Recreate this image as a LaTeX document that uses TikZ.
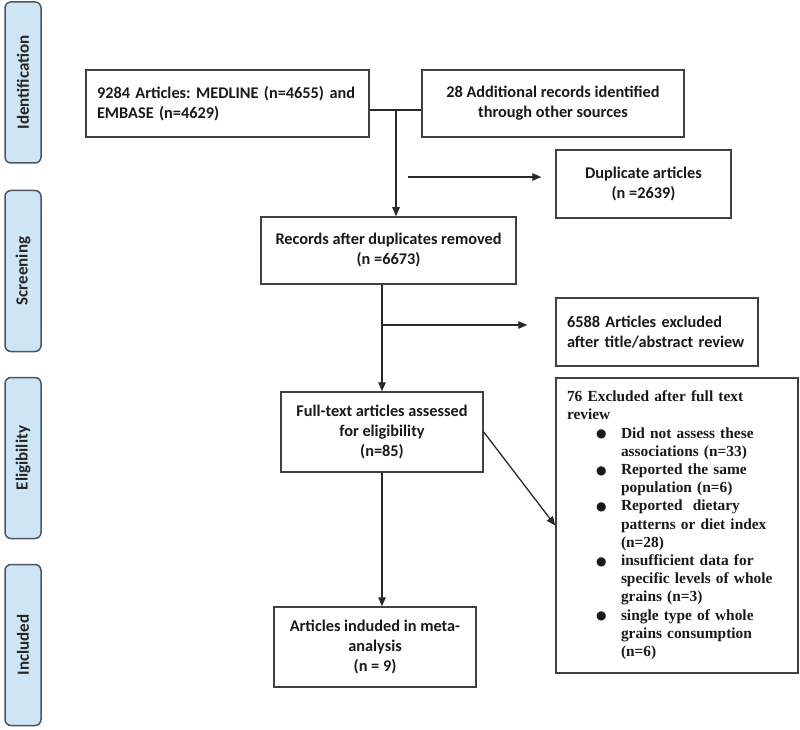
\documentclass[tikz,border=0pt]{standalone}
\usepackage{fontspec}
\setmainfont{Carlito}
\newfontfamily\tnr{Liberation Serif}
\newfontfamily\dejavu{DejaVu Sans}
\usetikzlibrary{arrows.meta}
\frenchspacing
\definecolor{sideblue}{RGB}{206,229,246}
\definecolor{sidegray}{RGB}{75,85,95}
\definecolor{boxgray}{RGB}{65,65,65}
\definecolor{linegray}{RGB}{40,40,40}
\newcommand{\bul}{\makebox[54pt][l]{\hspace{29pt}\raisebox{0.5pt}{\dejavu\fontsize{12}{12}\selectfont ●}}}
\tikzset{
  box/.style={draw=boxgray, line width=1.5pt, align=center, inner sep=0pt,
    font=\fontsize{16.3}{20}\selectfont\bfseries, text=black!90},
  side/.style={draw=sidegray, fill=sideblue, rounded corners=6pt, line width=1.5pt,
    rotate=90, minimum width=161pt, minimum height=36pt, inner sep=0pt,
    font=\fontsize{17}{19}\selectfont\bfseries, text=black!85},
  conn/.style={draw=linegray, line width=1.3pt},
  arr/.style={conn, -{Triangle[length=9pt,width=7.5pt]}}
}
\begin{document}
\begin{tikzpicture}[x=1pt,y=-1pt]
\useasboundingbox (0,0) rectangle (800,730);
% side labels
\node[side] (sid) at (23,82.5) {Identification};
\node[side] (ssc) at (23,271) {Screening};
\node[side] (sel) at (23,458) {Eligibility};
\node[side] (sin) at (23,645) {Included};
% boxes
\node[box, minimum width=283pt, minimum height=67pt, text width=261pt, align=left] (A) at (227.5,103.5)
  {9284 Articles: MEDLINE (n=4655) and\\EMBASE (n=4629)};
\node[box, minimum width=262pt, minimum height=67pt] (B) at (553,103.5)
  {28 Additional records identified\\through other sources};
\node[box, minimum width=175pt, minimum height=68pt] (Dup) at (643.5,184)
  {Duplicate articles\\(n =2639)};
\node[box, minimum width=255pt, minimum height=67pt] (Rec) at (388.5,250.5)
  {Records after duplicates removed\\(n =6673)};
\node[box, minimum width=202pt, minimum height=68pt, text width=180pt, align=left] (Ex1) at (657,332)
  {6588 Articles excluded\\after title/abstract review};
\node[box, minimum width=202pt, minimum height=80pt] (Full) at (382,432)
  {Full-text articles assessed\\for eligibility\\(n=85)};
\node[box, minimum width=202pt, minimum height=80pt] (Inc) at (375,647)
  {Articles induded in meta-\\analysis\\(n = 9)};
\node[box, minimum width=242pt, minimum height=295pt, text width=220pt, align=left,
  font=\tnr\bfseries\fontsize{15.4}{18.2}\selectfont] (Ex2) at (677,525.5)
  {\begin{tabular}{@{}l@{}l@{}}
   \multicolumn{2}{@{}l@{}}{76 Excluded after full text}\\
   \multicolumn{2}{@{}l@{}}{review}\\
   \bul & Did not assess these\\
        & associations (n=33)\\
   \bul & Reported the same\\
        & population (n=6)\\
   \bul & Reported\ \ dietary\\
        & patterns or diet index\\
        & (n=28)\\
   \bul & insufficient data for\\
        & specific levels of whole\\
        & grains (n=3)\\
   \bul & single type of whole\\
        & grains consumption\\
        & (n=6)
   \end{tabular}};
% connectors
\coordinate (J) at (396,110);
\draw[conn] (J -| A.east) -- (J -| B.west);
\draw[arr] (J) -- (J |- Rec.north);
\coordinate (D0) at (408,177);
\draw[arr] (D0) -- ([xshift=-14pt]Dup.west |- D0);
\draw[arr] (Rec.south -| Full.north) -- (Full.north);
\coordinate (B1) at (382,325);
\draw[arr] (B1) -- ([xshift=-28pt]Ex1.west |- B1);
\draw[arr] (Full.east) -- (Ex2.west);
\draw[arr] (Full.south) -- (Full.south |- Inc.north);
\end{tikzpicture}
\end{document}
